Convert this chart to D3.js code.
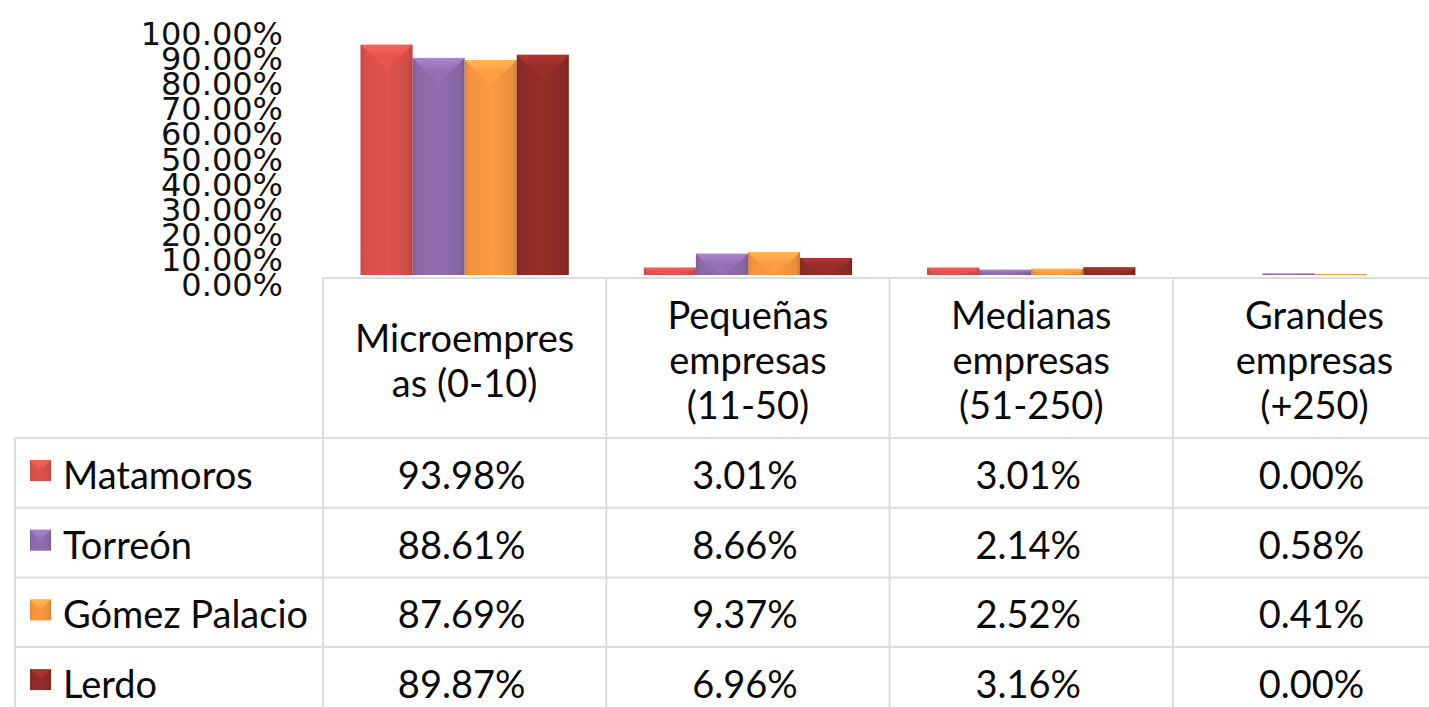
<!DOCTYPE html>
<html>
<head>
<meta charset="utf-8">
<script src="https://cdn.jsdelivr.net/npm/d3@7"></script>
<style>
  html, body { margin: 0; padding: 0; background: #ffffff; }
  svg { display: block; }
</style>
</head>
<body>
<svg id="chart" width="1429" height="707"></svg>
<script>
// ---- data ----
const categories = ["Microempresas (0-10)", "Pequeñas empresas (11-50)", "Medianas empresas (51-250)", "Grandes empresas (+250)"];
const headerLines = [["Microempres", "as (0-10)"], ["Pequeñas", "empresas", "(11-50)"], ["Medianas", "empresas", "(51-250)"], ["Grandes", "empresas", "(+250)"]];
const seriesNames = ["Matamoros", "Torreón", "Gómez Palacio", "Lerdo"];
const matamoros = [93.98, 3.01, 3.01, 0.00];
const torreon = [88.61, 8.66, 2.14, 0.58];
const gomezPalacio = [87.69, 9.37, 2.52, 0.41];
const lerdo = [89.87, 6.96, 3.16, 0.00];
const yTicks = [0, 10, 20, 30, 40, 50, 60, 70, 80, 90, 100];
const seriesColors = ["#d94f4b", "#8b69a9", "#f2943f", "#8f2b27"];

const seriesValues = [matamoros, torreon, gomezPalacio, lerdo];

// ---- layout ----
const svg = d3.select("#chart");
const defs = svg.append("defs");
const colLeft = 323, colW = 283.3;
const baseY = 275, topY = 30;
const tableTop = 278, headerBottom = 438, rowH = 69.7, tableLeft = 15;
const lineColor = "#dcdcdc";

const x0 = d3.scaleBand().domain(categories).range([colLeft, colLeft + colW * categories.length]).paddingInner(0).paddingOuter(0);
const x1 = d3.scaleBand().domain(seriesNames).range([0, x0.bandwidth()]).paddingInner(0).paddingOuter(0.72);
const y = d3.scaleLinear().domain([0, 100]).range([baseY, topY]);
const yLab = d3.scaleLinear().domain([0, 100]).range([284, 33]);
const rowY = d3.scaleBand().domain(seriesNames).range([headerBottom, headerBottom + rowH * seriesNames.length]);

// gradients per series
seriesNames.forEach((s, i) => {
  const c = d3.color(seriesColors[i]);
  const g = defs.append("linearGradient").attr("id", "hg" + i).attr("x1", 0).attr("x2", 1).attr("y1", 0).attr("y2", 0);
  g.append("stop").attr("offset", 0).attr("stop-color", c.darker(0.35));
  g.append("stop").attr("offset", 0.08).attr("stop-color", c);
  g.append("stop").attr("offset", 0.5).attr("stop-color", c.brighter(0.1));
  g.append("stop").attr("offset", 0.92).attr("stop-color", c.darker(0.1));
  g.append("stop").attr("offset", 1).attr("stop-color", c.darker(0.5));
  const v = defs.append("linearGradient").attr("id", "vg" + i).attr("x1", 0).attr("x2", 0).attr("y1", 0).attr("y2", 1);
  v.append("stop").attr("offset", 0).attr("stop-color", c.brighter(0.7));
  v.append("stop").attr("offset", 1).attr("stop-color", c.brighter(0.15));
});

function bevelBox(g, x, yy, w, h, i) {
  if (h <= 0) return;
  g.append("rect").attr("x", x).attr("y", yy).attr("width", w).attr("height", h).attr("fill", "url(#hg" + i + ")");
  const b = Math.min(13, h / 2, w / 2);
  g.append("path")
    .attr("d", `M${x},${yy}L${x + w},${yy}L${x + w - b},${yy + b}L${x + w / 2},${yy + b}L${x + b},${yy + b}Z`)
    .attr("fill", "url(#vg" + i + ")").attr("opacity", 0.85);
  g.append("path")
    .attr("d", `M${x + b},${yy + b}L${x + w / 2},${yy + b * 1.9 > yy + h ? yy + b : yy + b * 1.9}L${x + w - b},${yy + b}Z`)
    .attr("fill", d3.color(seriesColors[i]).brighter(0.3)).attr("opacity", 0.5);
}

// ---- bars ----
const barsG = svg.append("g");
categories.forEach((cat, ci) => {
  seriesNames.forEach((s, si) => {
    const v = seriesValues[si][ci];
    const bx = x0(cat) + x1(s);
    const by = y(v);
    bevelBox(barsG, bx, by, x1.bandwidth(), y(0) - by, si);
  });
});

// ---- y axis labels ----
const yAxis = d3.axisLeft(yLab).tickValues(yTicks).tickSize(0).tickPadding(0)
  .tickFormat(d => d.toFixed(2) + "%");
const yg = svg.append("g").attr("transform", "translate(283,0)").call(yAxis);
yg.select(".domain").remove();
yg.selectAll("text").attr("font-family", "'DejaVu Sans', Verdana, sans-serif").attr("font-size", 32).attr("fill", "#111").attr("dy", "0.36em");

// ---- table ----
const tg = svg.append("g");
const right = 1429 + 40;
// horizontal lines
tg.append("line").attr("x1", colLeft).attr("x2", right).attr("y1", tableTop).attr("y2", tableTop);
seriesNames.forEach(s => {
  tg.append("line").attr("x1", tableLeft).attr("x2", right).attr("y1", rowY(s)).attr("y2", rowY(s));
});
tg.append("line").attr("x1", tableLeft).attr("x2", right).attr("y1", rowY.range()[1]).attr("y2", rowY.range()[1]);
// vertical lines
tg.append("line").attr("x1", tableLeft).attr("x2", tableLeft).attr("y1", headerBottom).attr("y2", rowY.range()[1]);
categories.forEach(cat => {
  tg.append("line").attr("x1", x0(cat)).attr("x2", x0(cat)).attr("y1", tableTop).attr("y2", rowY.range()[1]);
});
tg.append("line").attr("x1", x0.range()[1]).attr("x2", x0.range()[1]).attr("y1", tableTop).attr("y2", rowY.range()[1]);
tg.selectAll("line").attr("stroke", lineColor).attr("stroke-width", 2);

const font = "Lato, 'Open Sans', sans-serif";
const fs = 38;
// header text
categories.forEach((cat, ci) => {
  const lines = headerLines[ci];
  const cx = x0(cat) + x0.bandwidth() / 2;
  const mid = (tableTop + headerBottom) / 2 + 16;
  const start = mid - (lines.length - 1) * 45 / 2;
  lines.forEach((ln, li) => {
    tg.append("text").attr("x", cx).attr("y", start + li * 45).attr("text-anchor", "middle")
      .attr("font-family", font).attr("font-size", fs).attr("fill", "#0a0a0a").text(ln);
  });
});

// rows
seriesNames.forEach((s, si) => {
  const ry = rowY(s);
  const base = ry + rowH / 2 + 16;
  bevelBox(tg, 30, ry + 22, 21, 21, si);
  tg.append("text").attr("x", 63).attr("y", base).attr("font-family", font).attr("font-size", fs).attr("fill", "#0a0a0a").text(s);
  categories.forEach((cat, ci) => {
    tg.append("text").attr("x", x0(cat) + x0.bandwidth() / 2 - 3).attr("y", base).attr("text-anchor", "middle")
      .attr("font-family", font).attr("font-size", fs).attr("fill", "#0a0a0a")
      .text(seriesValues[si][ci].toFixed(2) + "%");
  });
});
</script>
</body>
</html>
